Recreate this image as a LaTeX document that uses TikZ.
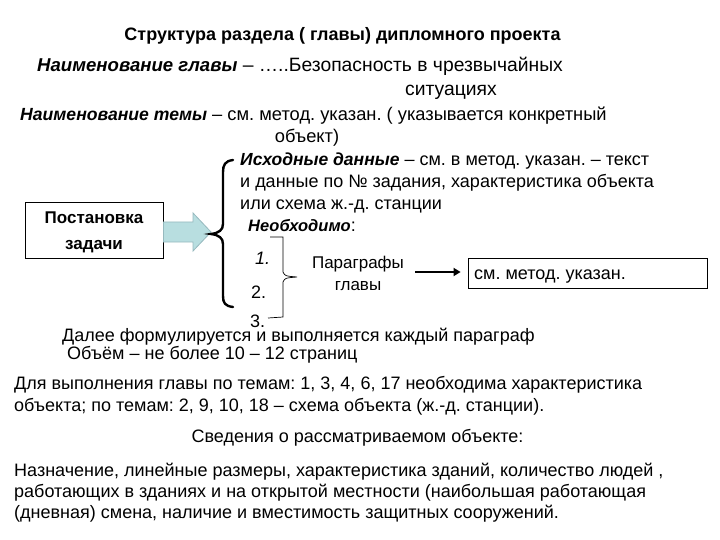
\documentclass[tikz,border=0pt]{standalone}
\usepackage{fontspec}
\setmainfont{Liberation Sans}
\usetikzlibrary{arrows.meta}
\definecolor{arrowfill}{RGB}{184,222,224}
\definecolor{arrowline}{RGB}{150,185,190}
\newcommand{\fsz}[1]{\fontsize{#1}{#1}\selectfont}
\newcommand{\bi}[2]{{\fsz{#1}\bfseries\itshape #2}}
\begin{document}
\frenchspacing
\begin{tikzpicture}[x=1pt,y=-1pt,
  txt/.style={anchor=base west,inner sep=0pt,font=\fsz{18}},
  ctxt/.style={anchor=base,inner sep=0pt,font=\fsz{18}},
  frame/.style={draw=black,line width=0.8pt}]
\useasboundingbox (0,0) rectangle (720,540);

\node[ctxt,font=\fsz{18}\bfseries] (title) at (342.5,41) {Структура раздела ( главы) дипломного проекта};
\node[txt,font=\fsz{19.3}] (l2) at (37,72) {\bi{18.6}{Наименование главы} – …..Безопасность в чрезвычайных};
\node[ctxt,font=\fsz{19.3}] (l3) at (451,96) {ситуациях};
\node[txt,font=\fsz{18.3}] (l4) at (20,121) {\bi{17.6}{Наименование темы} – см. метод. указан. ( указывается конкретный};
\node[ctxt,font=\fsz{18.3}] (l5) at (307,143) {объект)};

\node[txt] (d1) at (240,166) {\bi{17.5}{Исходные данные} – см. в метод. указан. – текст};
\node[txt] (d2) at (240,188) {и данные по № задания, характеристика объекта};
\node[txt] (d3) at (240,210) {или схема ж.-д. станции};
\node[txt] (need) at (248,232) {\bi{16.5}{Необходимо}:};
\node[txt,font=\fsz{18}\itshape] (n1) at (255,264) {1.};
\node[txt] (n2) at (251,298) {2.};
\node[txt] (n3) at (250,327) {3.};

\node[ctxt,font=\fsz{17}] (para1) at (358,268) {Параграфы};
\node[ctxt,font=\fsz{17}] (para2) at (358,290) {главы};
\coordinate (pa) at (415,272);
\node[frame,minimum width=239pt,minimum height=30pt,inner sep=0pt] (box) at (587.5,273) {};
\node[txt] (boxtext) at (474,279) {см. метод. указан.};
\draw[line width=2.6pt,-{Triangle[length=7pt,width=8pt]},shorten >=7pt] (pa) -- (pa -| box.west);

\node[frame,minimum width=138pt,minimum height=56pt,inner sep=0pt] (task) at (94,230) {};
\node[ctxt,font=\fsz{17}\bfseries] (task1) at (94,224) {Постановка};
\node[ctxt,font=\fsz{17}\bfseries] (task2) at (94,249) {задачи};

% block arrow
\draw[arrowline,fill=arrowfill,line width=0.8pt]
  (task.east |- 0,222) -- (193,222) -- (193,213) -- (211,232) -- (193,251) -- (193,242) -- (task.east |- 0,242) -- cycle;

% big brace
\draw[line width=2.4pt,line cap=round]
  (233,160) .. controls (225,161) and (223,165) .. (223,172)
  -- (223,224) .. controls (223,230) and (219,233) .. (211,234)
  .. controls (219,235) and (223,238) .. (223,244)
  -- (223,296) .. controls (223,303) and (225,306) .. (233,307);

% small bracket
\draw[line width=0.7pt]
  (270,237) -- (283,237) -- (283,272) .. controls (285,276) .. (297,277)
  .. controls (285,278) .. (283,282) -- (283,317) -- (268,318);

\node[txt] (next) at (62,341) {Далее формулируется и выполняется каждый параграф};
\node[txt] (vol) at (67,359) {Объём – не более 10 – 12 страниц};

\node[txt] (b1) at (14,389) {Для выполнения главы по темам: 1, 3, 4, 6, 17 необходима характеристика};
\node[txt] (b2) at (14,411) {объекта; по темам: 2, 9, 10, 18 – схема объекта (ж.-д. станции).};
\node[ctxt] (b3) at (357.5,442) {Сведения о рассматриваемом объекте:};
\node[txt] (b4) at (14,476) {Назначение, линейные размеры, характеристика зданий, количество людей ,};
\node[txt] (b5) at (14,497) {работающих в зданиях и на открытой местности (наибольшая работающая};
\node[txt] (b6) at (14,518) {(дневная) смена, наличие и вместимость защитных сооружений.};
\end{tikzpicture}
\end{document}
